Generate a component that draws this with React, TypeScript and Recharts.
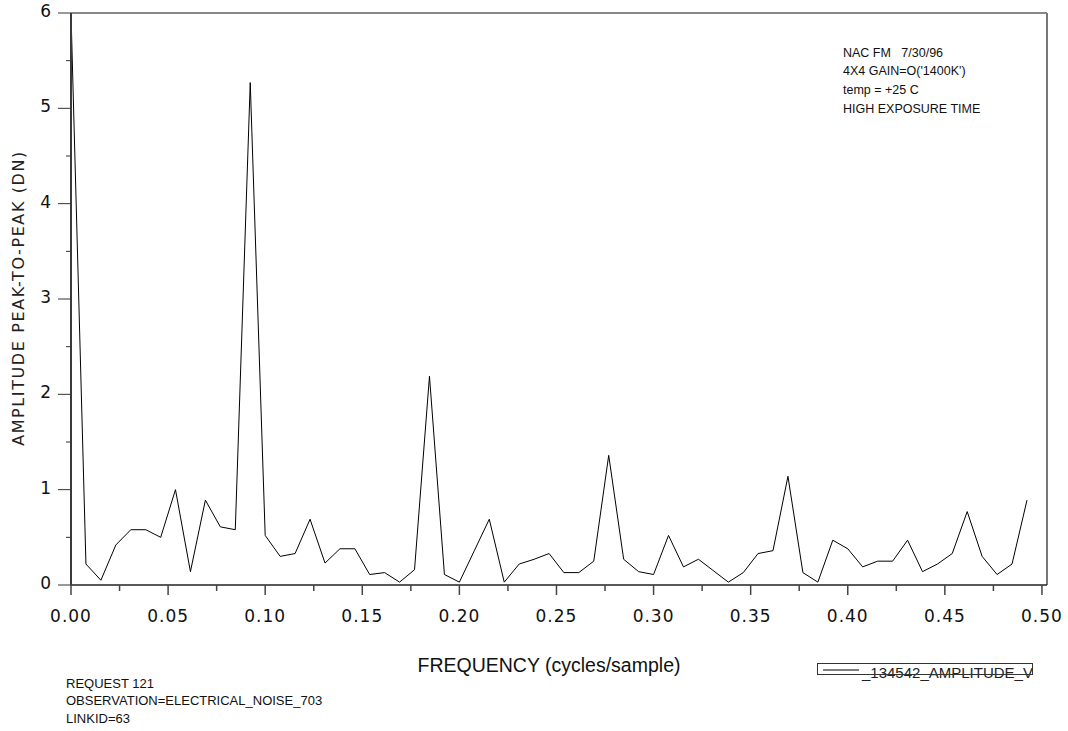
import React from "react";
import { LineChart, Line, XAxis, YAxis, ReferenceLine } from "recharts";

const frequencies = [
  0, 0.0077, 0.0154, 0.0231, 0.0308, 0.0385, 0.0462, 0.0538, 0.0615, 0.0692,
  0.0769, 0.0846, 0.0923, 0.1, 0.1077, 0.1154, 0.1231, 0.1308, 0.1385, 0.1462,
  0.1538, 0.1615, 0.1692, 0.1769, 0.1846, 0.1923, 0.2, 0.2077, 0.2154, 0.2231,
  0.2308, 0.2385, 0.2462, 0.2538, 0.2615, 0.2692, 0.2769, 0.2846, 0.2923, 0.3,
  0.3077, 0.3154, 0.3231, 0.3308, 0.3385, 0.3462, 0.3538, 0.3615, 0.3692, 0.3769,
  0.3846, 0.3923, 0.4, 0.4077, 0.4154, 0.4231, 0.4308, 0.4385, 0.4462, 0.4538,
  0.4615, 0.4692, 0.4769, 0.4846, 0.4923,
];

const amplitudes = [
  6.0, 0.22, 0.05, 0.42, 0.58, 0.58, 0.5, 1.0, 0.14, 0.89,
  0.61, 0.58, 5.27, 0.52, 0.3, 0.33, 0.69, 0.23, 0.38, 0.38,
  0.11, 0.13, 0.03, 0.16, 2.19, 0.11, 0.03, 0.36, 0.69, 0.03,
  0.22, 0.27, 0.33, 0.13, 0.13, 0.25, 1.36, 0.27, 0.14, 0.11,
  0.52, 0.19, 0.27, 0.15, 0.03, 0.13, 0.33, 0.36, 1.14, 0.13,
  0.03, 0.47, 0.38, 0.19, 0.25, 0.25, 0.47, 0.14, 0.22, 0.33,
  0.77, 0.3, 0.11, 0.22, 0.89,
];

const xTicks = [
  0, 0.025, 0.05, 0.075, 0.1, 0.125, 0.15, 0.175, 0.2, 0.225, 0.25, 0.275,
  0.3, 0.325, 0.35, 0.375, 0.4, 0.425, 0.45, 0.475, 0.5,
];
const xMajorTicks = [0, 0.05, 0.1, 0.15, 0.2, 0.25, 0.3, 0.35, 0.4, 0.45, 0.5];
const yTicks = [0, 0.5, 1, 1.5, 2, 2.5, 3, 3.5, 4, 4.5, 5, 5.5, 6];
const yMajorTicks = [0, 1, 2, 3, 4, 5, 6];

const X_MAX = 0.5026;
const Y_MAX = 6;

const seriesName = "_134542_AMPLITUDE_V";
const xLabel = "FREQUENCY (cycles/sample)";
const yLabel = "AMPLITUDE PEAK-TO-PEAK (DN)";
const noteLines = ["NAC FM   7/30/96", "4X4 GAIN=O('1400K')", "temp = +25 C", "HIGH EXPOSURE TIME"];
const footLines = ["REQUEST 121", "OBSERVATION=ELECTRICAL_NOISE_703", "LINKID=63"];

const data = frequencies.map((f, i) => ({ f, amp: amplitudes[i] }));

const TICK_FONT = "'DejaVu Sans', Verdana, sans-serif";
const LABEL_FONT = "'Liberation Sans', Arial, sans-serif";

const YTick = (props: any) => {
  const { x, y, payload } = props;
  const v = payload.value;
  const major = yMajorTicks.includes(v);
  return (
    <g>
      <line x1={x - (major ? 13 : 5)} x2={x} y1={y} y2={y} stroke="#333" strokeWidth={1} />
      {major && (
        <text
          x={x - 20}
          y={y - 2}
          textAnchor="end"
          dominantBaseline="central"
          fontSize={17}
          fontFamily={TICK_FONT}
          fill="#111"
        >
          {String(v)}
        </text>
      )}
    </g>
  );
};

const XTick = (props: any) => {
  const { x, y, payload } = props;
  const v = payload.value;
  const major = xMajorTicks.includes(v);
  return (
    <g>
      <line x1={x} x2={x} y1={y} y2={y + (major ? 10 : 6)} stroke="#444" strokeWidth={1.5} />
      {major && (
        <text
          x={x}
          y={y + 31}
          textAnchor="middle"
          dominantBaseline="central"
          fontSize={17}
          letterSpacing={1}
          fontFamily={TICK_FONT}
          fill="#111"
        >
          {v.toFixed(2)}
        </text>
      )}
    </g>
  );
};

export default function App() {
  return (
    <div style={{ position: "absolute", left: 0, top: 0, width: 1068, height: 731, background: "#fff" }}>
      <LineChart
        width={1068}
        height={731}
        data={data}
        margin={{ top: 13, right: 21, bottom: 116, left: 0 }}
      >
        <XAxis
          type="number"
          dataKey="f"
          domain={[0, X_MAX]}
          ticks={xTicks}
          interval={0}
          tickSize={0}
          tickMargin={0}
          tickLine={false}
          tick={<XTick />}
          axisLine={{ stroke: "#222", strokeWidth: 1.5 }}
          height={30}
          allowDataOverflow
        />
        <YAxis
          type="number"
          domain={[0, Y_MAX]}
          ticks={yTicks}
          interval={0}
          tickSize={0}
          tickMargin={0}
          tickLine={false}
          tick={<YTick />}
          axisLine={{ stroke: "#3a3a3a", strokeWidth: 2 }}
          width={71}
          allowDataOverflow
        />
        <ReferenceLine y={Y_MAX} stroke="#111" strokeWidth={1} />
        <ReferenceLine x={X_MAX} stroke="#777" strokeWidth={2} />
        <Line
          type="linear"
          dataKey="amp"
          stroke="#000"
          strokeWidth={1}
          dot={false}
          activeDot={false}
          isAnimationActive={false}
        />
      </LineChart>
      <svg
        width={1068}
        height={731}
        style={{ position: "absolute", left: 0, top: 0, pointerEvents: "none" }}
      >
        <text
          transform="translate(24,298) rotate(-90)"
          textAnchor="middle"
          fontSize={16}
          letterSpacing={1.6}
          fontFamily={TICK_FONT}
          fill="#222"
        >
          {yLabel}
        </text>
        <text x={549} y={672} textAnchor="middle" fontSize={19.5} fontFamily={LABEL_FONT} fill="#111">
          {xLabel}
        </text>
        {noteLines.map((t, i) => (
          <text key={i} x={843} y={56.5 + i * 18.7} fontSize={12.5} fontFamily={LABEL_FONT} fill="#111" style={{ whiteSpace: "pre" }}>
            {t}
          </text>
        ))}
        {footLines.map((t, i) => (
          <text key={i} x={66} y={688 + i * 17.3} fontSize={13} fontFamily={LABEL_FONT} fill="#111">
            {t}
          </text>
        ))}
        <text x={862} y={678} fontSize={15} fontFamily={LABEL_FONT} fill="#222">
          {seriesName}
        </text>
        <rect x={817.5} y={663.5} width={215} height={11} fill="none" stroke="#333" strokeWidth={1} />
        <line x1={823} x2={859} y1={670} y2={670} stroke="#555" strokeWidth={1.5} />
      </svg>
    </div>
  );
}
